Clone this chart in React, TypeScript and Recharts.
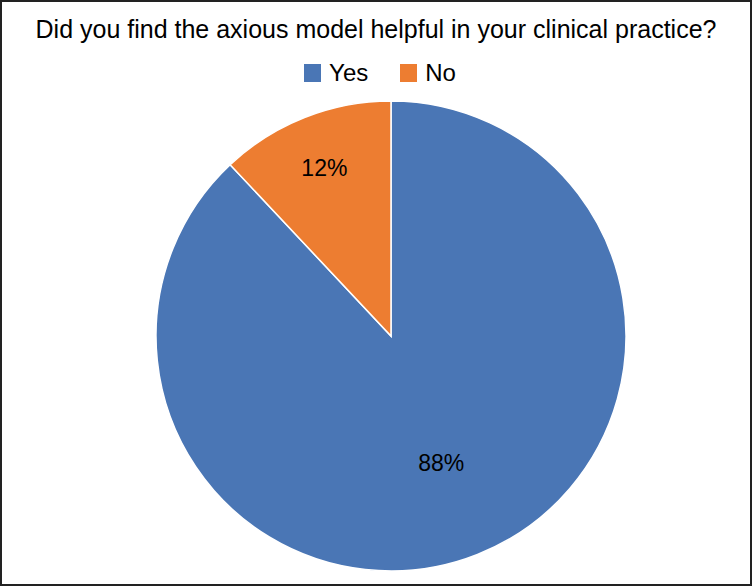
import { PieChart, Pie, Cell } from "recharts";

const categories = ["Yes", "No"];
const shares = [88, 12];
const colors = ["#4A76B5", "#ED7D31"];

const data = categories.map((name, i) => ({ name, value: shares[i] }));

const RADIAN = Math.PI / 180;
const FONT = "'Liberation Sans', Arial, sans-serif";

function renderLabel(props: any) {
  const { cx, cy, midAngle, outerRadius, index, value } = props;
  const r = outerRadius * (index === 0 ? 0.58 : 0.77);
  const x = cx + r * Math.cos(-midAngle * RADIAN);
  const y = cy + r * Math.sin(-midAngle * RADIAN);
  return (
    <text
      x={x}
      y={y}
      fill="#000"
      textAnchor="middle"
      dominantBaseline="central"
      fontSize={23}
      fontFamily={FONT}
    >
      {`${value}%`}
    </text>
  );
}

function ChartLegend() {
  return (
    <div
      style={{
        position: "absolute",
        top: 59,
        left: 4,
        width: 752,
        display: "flex",
        justifyContent: "center",
        gap: 32,
        fontFamily: FONT,
        fontSize: 24,
        lineHeight: "28px",
        color: "#000",
      }}
    >
      {categories.map((c, i) => (
        <div key={c} style={{ display: "flex", alignItems: "center" }}>
          <span style={{ width: 17, height: 18, background: colors[i], marginRight: 8, display: "inline-block" }} />
          <span>{c}</span>
        </div>
      ))}
    </div>
  );
}

export default function App() {
  return (
    <div style={{ position: "relative", width: 752, height: 586, background: "#fff" }}>
      <style>{"body{margin:0}"}</style>
      <div style={{ position: "absolute", top: 0, left: 0 }}>
        <PieChart width={752} height={586} margin={{ top: 0, right: 0, bottom: 0, left: 0 }}>
          <Pie
            data={data}
            dataKey="value"
            nameKey="name"
            cx={391}
            cy={336}
            outerRadius={235}
            startAngle={90}
            endAngle={-270}
            stroke="#fff"
            strokeWidth={1.5}
            label={renderLabel}
            labelLine={false}
            isAnimationActive={false}
          >
            {data.map((d, i) => (
              <Cell key={d.name} fill={colors[i]} />
            ))}
          </Pie>
        </PieChart>
      </div>
      <div
        style={{
          position: "absolute",
          top: 14,
          left: 0,
          width: 752,
          textAlign: "center",
          fontFamily: FONT,
          fontSize: 25,
          lineHeight: "30px",
          color: "#000",
        }}
      >
        Did you find the axious model helpful in your clinical practice?
      </div>
      <ChartLegend />
      <div
        style={{
          position: "absolute",
          inset: 0,
          border: "2px solid #222",
          pointerEvents: "none",
        }}
      />
    </div>
  );
}
